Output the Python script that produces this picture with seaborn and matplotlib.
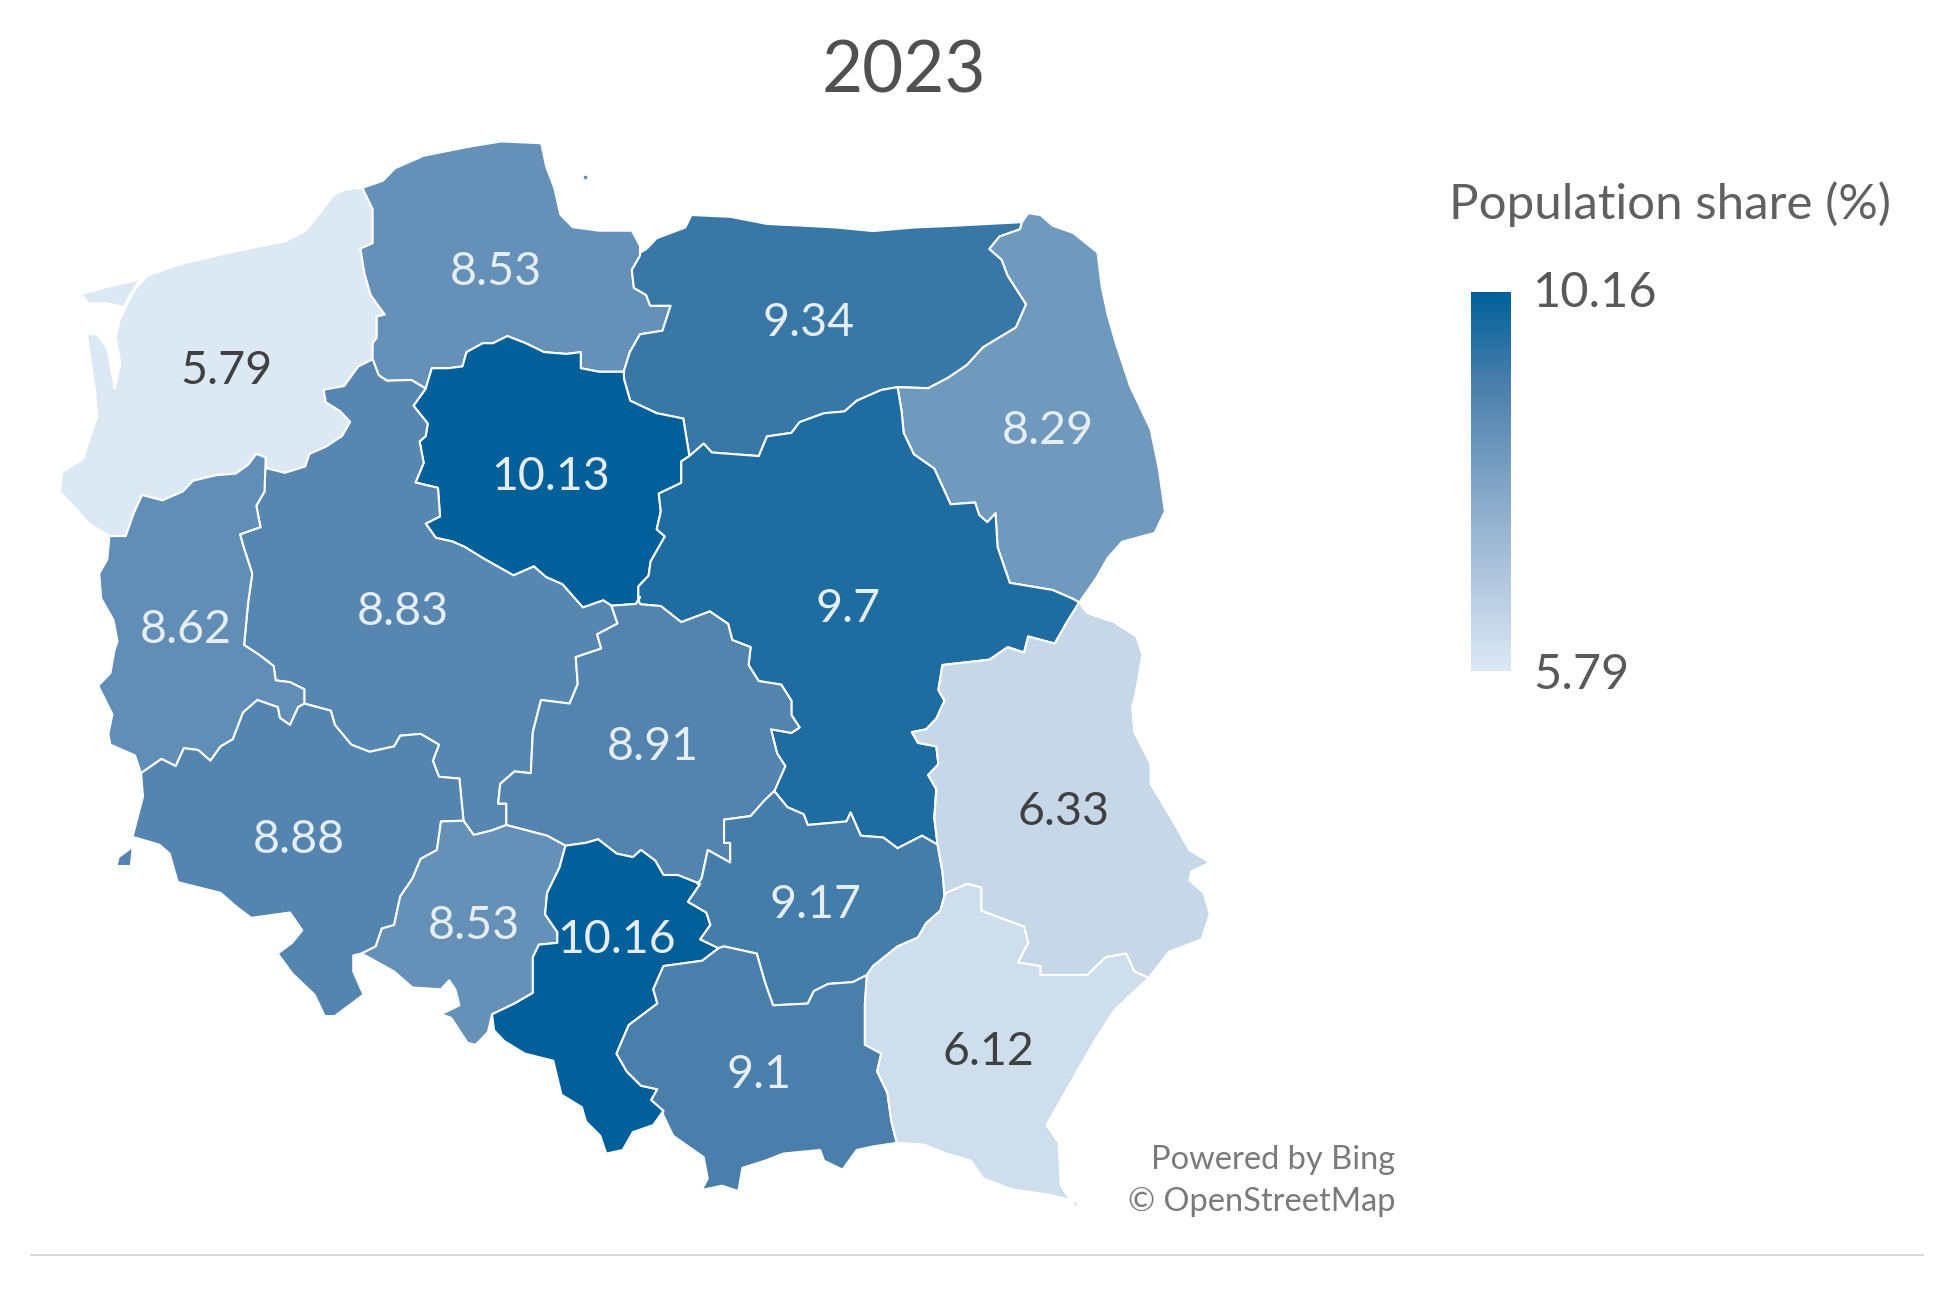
import numpy as np
import matplotlib
matplotlib.use("Agg")
import matplotlib.pyplot as plt
import seaborn as sb

# population share per voivodeship
regions = ["ZP", "PM", "WM", "PD", "KP", "WP", "LB", "MZ", "LD", "DS", "OP", "SL", "SK", "MA", "LU", "PK"]
shares = [5.79, 8.53, 9.34, 8.29, 10.13, 8.83, 8.62, 9.7, 8.91, 8.88, 8.53, 10.16, 9.17, 9.1, 6.33, 6.12]
share_labels = ["5.79", "8.53", "9.34", "8.29", "10.13", "8.83", "8.62", "9.7", "8.91", "8.88", "8.53", "10.16", "9.17", "9.1", "6.33", "6.12"]
title = "2023"
legend_title = "Population share (%)"
legend_max = 10.16
legend_min = 5.79


# outlines were traced on four crops of the picture, px in those crops
def z1(pts):
    return [(40 + x / 2.45, 120 + y / 2.8) for x, y in pts]
def z2(pts):
    return [(620 + x / 2.45, 190 + y / 2.8) for x, y in pts]
def z3(pts):
    return [(90 + x / 2.45, 650 + y / 2.8) for x, y in pts]
def z4(pts):
    return [(620 + x / 2.45, 700 + y / 2.8) for x, y in pts]


arcs = {
    "zp_coast": z1([(790,190),(745,195),(715,215),(690,255),(650,310),(600,340),(510,360),(430,380),(340,405),(265,435),(235,470),(215,510),(195,560),(185,610),(197,680),(183,752),(175,700),(165,640),(140,600),(115,600),(125,680),(135,760),(140,830),(125,880),(105,950),(55,985),(48,1040),(85,1085),(120,1130),(170,1165)]),
    "zp_lb": z1([(170,1165),(210,1165),(230,1100),(250,1050),(300,1065),(350,1040),(375,1010),(430,995),(480,990),(510,965),(530,935),(553,945)]),
    "zp_wp": z1([(553,945),(555,975),(600,988),(650,970),(660,935),(700,915),(740,885),(760,845),(735,815),(700,790),(695,755),(745,745),(780,690),(815,670)]),
    "zp_pm": z1([(790,190),(815,250),(815,345),(785,360),(795,430),(810,490),(835,530),(845,545),(825,550),(825,610),(815,625),(815,670)]),
    "pm_wp": z1([(815,670),(830,715),(850,730),(910,728),(945,752)]),
    "pm_kp": z1([(945,752),(960,695),(1000,695),(1035,690),(1045,650),(1085,625),(1110,625),(1145,605),(1190,625),(1235,650),(1290,655),(1325,650),(1325,695),(1370,705),(1430,705)]),
    "pm_wm": z1([(1430,705),(1445,650),(1470,600),(1525,590),(1545,520),(1495,520),(1485,490),(1455,470),(1450,420),(1470,380),(1470,352)]),
    "pm_coast": z1([(1470,352),(1450,310),(1370,310),(1305,300),(1275,265),(1260,190),(1240,130),(1228,65),(1130,60),(1050,75),(940,100),(870,135),(840,170),(790,190)]),
    "kp_wp": z1([(945,752),(915,800),(950,850),(945,885),(930,900),(940,960),(920,1015),(975,1030),(980,1110),(945,1130),(970,1170),(1010,1180),(1040,1195),(1090,1230),(1160,1275),(1210,1250),(1240,1280),(1280,1300),(1330,1365),(1380,1345),(1400,1360)]),
    "kp_ld": z1([(1400,1360),(1460,1355),(1470,1335)]),
    "kp_mz": z2([(170,745),(150,760),(150,820),(95,850),(100,900),(90,950),(110,970),(75,1040),(70,1080),(45,1110),(45,1150)]),
    "kp_wm": z2([(10,530),(25,590),(90,625),(155,640),(170,745)]),
    "wm_mz": z2([(170,745),(205,710),(225,735),(340,745),(360,690),(420,680),(440,650),(500,625),(550,620),(580,590),(640,560),(680,552)]),
    "wm_pd": z2([(680,552),(755,555),(805,525),(850,490),(890,440),(970,385),(995,320),(950,240),(935,195),(905,165),(930,130),(980,110),(985,90)]),
    "wm_coast": z2([(985,90),(820,100),(720,105),(620,115),(530,105),(450,100),(360,95),(270,75),(175,70),(160,105),(90,135),(65,165),(50,175)]),
    "pd_east": z2([(985,90),(1000,65),(1030,70),(1060,100),(1110,120),(1170,175),(1180,270),(1195,350),(1215,430),(1250,550),(1300,670),(1320,780),(1335,900),(1310,960),(1230,985),(1195,1030),(1165,1090),(1125,1155)]),
    "pd_mz": z2([(680,552),(690,620),(695,680),(720,740),(770,780),(810,880),(870,875),(880,910),(900,930),(920,905),(925,1000),(955,1100),(1060,1120),(1110,1145),(1125,1155)]),
    "mz_lu": z2([(1125,1155),(1095,1210),(1065,1270),(1000,1250),(990,1295),(950,1280),(905,1315),(790,1330),(780,1400),(795,1430),(775,1480),(750,1510)]) + z4([(715,90),(730,120),(775,130),(780,180),(755,210),(775,250),(770,330),(778,405)]),
    "lu_east": z2([(1125,1155),(1145,1185),(1210,1210),(1265,1250),(1280,1300),(1265,1400),(1255,1450)]) + z4([(1260,90),(1300,180),(1300,235),(1350,330),(1395,420),(1445,455),(1400,480),(1395,505),(1430,540),(1445,600),(1425,670),(1345,705),(1295,778)]),
    "lu_pk": z4([(1295,778),(1260,760),(1240,710),(1190,720),(1145,770),(1030,770),(1030,745),(975,735),(1000,680),(990,635),(885,590),(885,525),(850,515),(800,540)]),
    "lu_sk": z4([(778,405),(790,480),(795,545),(800,540)]),
    "pk_sk": z4([(795,548),(785,590),(750,625),(730,665),(680,690),(620,745),(605,770)]),
    "sk_ma": z4([(605,770),(570,790),(510,795),(475,815),(460,850),(375,855),(355,790),(335,710),(255,690),(240,695)]),
    "pk_ma": z4([(605,770),(600,850),(600,965),(640,990),(630,1040),(655,1100),(665,1180),(678,1240)]),
    "pk_outer": z4([(678,1240),(745,1245),(800,1270),(860,1290),(890,1340),(960,1370),(1050,1385),(1120,1405),(1125,1435),(1080,1360),(1075,1240),(1045,1190),(1100,1080),(1160,960),(1210,870),(1295,778)]),
    "ma_outer": z4([(678,1240),(620,1250),(580,1260),(545,1315),(500,1290),(490,1260),(400,1270),(355,1290),(300,1310),(290,1375),(250,1360),(200,1372),(215,1340),(205,1280),(130,1220),(105,1160)]),
    "sl_ma": z3([(1540,835),(1500,870),(1405,885),(1380,950),(1390,990),(1320,1050),(1290,1130),(1315,1180),(1350,1220),(1390,1230),(1375,1260),(1405,1290)]),
    "sl_ld": z3([(1165,548),(1215,540),(1245,530),(1290,570),(1330,580),(1350,560),(1385,590),(1405,630),(1440,630),(1495,655)]),
    "sl_sk": z3([(1495,655),(1465,705),(1510,735),(1520,770),(1495,810),(1540,835)]),
    "sl_outer": z3([(1405,1290),(1380,1330),(1330,1350),(1305,1400),(1265,1410),(1250,1360),(1215,1320),(1205,1280),(1155,1245),(1135,1150),(1065,1130),(1015,1095),(990,1065),(985,1020)]),
    "op_sl": z3([(1165,548),(1150,610),(1120,680),(1115,740),(1145,790),(1145,820),(1100,825),(1085,860),(1085,960),(1040,990),(985,1020)]),
    "op_outer": z3([(985,1020),(975,1070),(945,1105),(925,1100),(885,1030),(860,1020),(905,995),(895,950),(880,925),(860,950),(790,945),(745,900),(690,865),(665,850)]),
    "ds_op": z3([(665,850),(700,830),(715,780),(745,770),(760,690),(790,640),(810,585),(850,560),(860,480),(915,478)]),
    "op_wp": z3([(915,478),(940,518),(985,505),(1020,490)]),
    "op_ld": z3([(1020,490),(1120,520),(1165,548)]),
    "wp_ld": z3([(1020,490),(1020,430),(1000,430),(1005,375),(1040,340),(1080,345),(1085,230),(1105,140),(1175,150),(1195,95),(1190,20)]) + z1([(1375,1480),(1365,1440),(1415,1410),(1400,1360)]),
    "ld_mz": z2([(45,1150),(50,1160),(100,1165),(150,1210),(220,1180),(265,1215),(275,1260),(320,1280),(315,1330),(340,1375),(395,1385),(420,1430),(420,1470),(440,1505),(420,1520),(370,1510)]) + z4([(385,150),(405,185),(378,255)]),
    "ld_sk": z4([(378,255),(355,280),(320,325),(255,335),(255,400),(270,400),(270,455),(215,420),(200,500),(190,515)]),
    "mz_sk": z4([(378,255),(410,300),(450,320),(460,350),(555,340),(565,315),(590,380),(645,385),(680,415),(740,380),(778,405)]),
    "wp_ds": z3([(915,478),(905,360),(855,355),(840,310),(855,265),(810,235),(760,240),(745,270),(685,285),(640,265),(600,210),(590,170),(525,150)]),
    "lb_wp": z3([(525,150),(525,110),(490,90),(455,85),(450,45)]) + z1([(540,1500),(500,1470),(510,1350),(520,1270),(500,1200),(490,1160),(540,1140),(530,1080),(550,1040),(553,945)]),
    "lb_ds": z3([(525,150),(510,160),(490,210),(465,190),(460,160),(410,140),(375,175),(350,250),(320,270),(295,310),(265,280),(230,275),(210,325),(175,305),(125,345)]),
    "lb_outer": z3([(125,345),(110,295),(50,265),(45,235),(55,180),(20,100),(50,65),(60,0)]) + z1([(190,1460),(180,1400),(150,1340),(145,1270),(165,1230),(170,1165)]),
    "ds_outer": z3([(125,345),(130,410),(105,520),(105,550),(100,605),(65,605),(70,580),(100,555),(110,525),(170,545),(195,570),(215,650),(320,680),(360,720),(395,750),(490,735),(520,785),(495,820),(460,850),(495,905),(550,965),(575,1025),(600,1025),(670,965),(645,900),(645,855),(665,850)]),
}

# a minus sign walks the arc backwards
rings = {
    "ZP": ["zp_coast", "zp_lb", "zp_wp", "-zp_pm"],
    "PM": ["zp_pm", "pm_wp", "pm_kp", "pm_wm", "pm_coast"],
    "WM": ["kp_wm", "wm_mz", "wm_pd", "wm_coast", "-pm_wm"],
    "PD": ["wm_pd", "pd_east", "-pd_mz"],
    "KP": ["pm_kp", "kp_wm", "kp_mz", "-kp_ld", "-kp_wp"],
    "WP": ["zp_wp", "pm_wp", "kp_wp", "-wp_ld", "-op_wp", "wp_ds", "lb_wp"],
    "LB": ["zp_lb", "-lb_wp", "lb_ds", "lb_outer"],
    "MZ": ["wm_mz", "pd_mz", "mz_lu", "-mz_sk", "-ld_mz", "-kp_mz"],
    "LD": ["wp_ld", "kp_ld", "ld_mz", "ld_sk", "-sl_ld", "-op_ld"],
    "DS": ["-lb_ds", "-wp_ds", "-ds_op", "-ds_outer"],
    "OP": ["ds_op", "op_wp", "op_ld", "op_sl", "op_outer"],
    "SL": ["sl_ld", "sl_sk", "sl_ma", "sl_outer", "-op_sl"],
    "SK": ["mz_sk", "lu_sk", "pk_sk", "sk_ma", "-sl_sk", "-ld_sk"],
    "MA": ["-sk_ma", "pk_ma", "ma_outer", "-sl_ma"],
    "LU": ["lu_east", "lu_pk", "-lu_sk", "-mz_lu"],
    "PK": ["-lu_pk", "-pk_outer", "-pk_ma", "-pk_sk"],
}
wolin = z1([(105,490),(165,470),(225,455),(240,450),(215,495),(205,520),(160,510),(120,510)])

# where each value sits on the map
label_x = [226, 496, 809, 1048, 551, 403, 186, 848, 653, 299, 474, 617, 816, 759, 1064, 988]
label_y = [371, 272, 323, 431, 477, 612, 630, 609, 747, 840, 926, 940, 905, 1075, 812, 1052]


def ring_points(names):
    pts = []
    for name in names:
        if name.startswith("-"):
            pts += arcs[name[1:]][::-1]
        else:
            pts += arcs[name]
    return pts


sb.set_theme(style="white")
plt.rcParams["font.family"] = ["Lato", "DejaVu Sans"]

cmap = sb.blend_palette(["#DCE8F4", "#AFC5DC", "#7FA3C5", "#4C7FAC", "#005F99"], as_cmap=True)
norm = plt.Normalize(legend_min, legend_max)

fig = plt.figure(figsize=(19.51, 12.89), dpi=100)
ax = fig.add_axes([0, 0, 1, 1])
ax.set_xlim(0, 1951)
ax.set_ylim(1289, 0)
ax.axis("off")

for region, share in zip(regions, shares):
    xy = np.array(ring_points(rings[region]))
    ax.fill(xy[:, 0], xy[:, 1], facecolor=cmap(norm(share)), edgecolor="white", linewidth=1.5, joinstyle="round")
xy = np.array(wolin)
ax.fill(xy[:, 0], xy[:, 1], facecolor=cmap(norm(shares[0])), edgecolor="none")
# small island east of the Hel peninsula
ax.plot([585], [177], marker="s", markersize=1.5, color=cmap(norm(shares[1])))

for text, x, y, share in zip(share_labels, label_x, label_y, shares):
    color = "#404040" if share < 7 else "#E6EDF4"
    ax.text(x, y, text, ha="center", va="center", fontsize=33.5, color=color)

ax.text(904, 72, title, ha="center", va="center", fontsize=51, color="#505050")
ax.text(1449, 204, legend_title, ha="left", va="center", fontsize=35.5, color="#606060")
ax.text(1533, 293, f"{legend_max}", ha="left", va="center", fontsize=35, color="#595959")
ax.text(1533, 675, f"{legend_min}", ha="left", va="center", fontsize=35, color="#595959")
ax.text(1395, 1160, "Powered by Bing", ha="right", va="center", fontsize=23.5, color="#7A7A7A")
ax.text(1395, 1202, "© OpenStreetMap", ha="right", va="center", fontsize=23.5, color="#7A7A7A")
ax.plot([31, 1923], [1255, 1255], color="#D9D9D9", linewidth=1.5)

# colour ramp of the legend
bar_ax = fig.add_axes([1471 / 1951, 1 - 671 / 1289, 40 / 1951, 379 / 1289])
ramp = np.linspace(legend_max, legend_min, 256).reshape(-1, 1)
sb.heatmap(ramp, ax=bar_ax, cmap=cmap, vmin=legend_min, vmax=legend_max, cbar=False, xticklabels=False, yticklabels=False)

fig.savefig("out.png", dpi=100)
